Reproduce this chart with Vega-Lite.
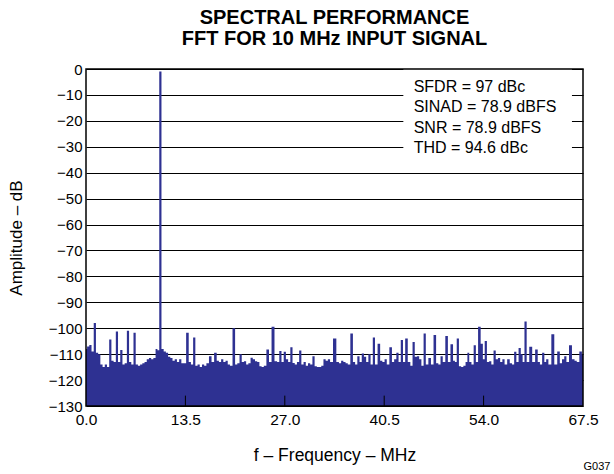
{
  "$schema": "https://vega.github.io/schema/vega-lite/v6.json",
  "width": 497,
  "height": 337,
  "autosize": "none",
  "padding": {"left": 86, "top": 69, "right": 31, "bottom": 68},
  "background": "white",
  "config": {
    "view": {"stroke": null},
    "font": "Liberation Sans",
    "axis": {"labelOverlap": false},
    "axisQuantitative": {"labelOverlap": false}
  },
  "title": {
    "text": ["SPECTRAL PERFORMANCE", "FFT FOR 10 MHz INPUT SIGNAL"],
    "fontSize": 20,
    "fontWeight": "bold",
    "font": "Liberation Sans",
    "color": "black",
    "offset": 13,
    "lineHeight": 21
  },
  "datasets": {
    "fft": [
      {"f": 0.0, "a": -108}, {"f": 0.3, "a": -107}, {"f": 0.6, "a": -106.5}, {"f": 0.9, "a": -109},
      {"f": 1.2, "a": -98}, {"f": 1.5, "a": -109.5}, {"f": 1.8, "a": -110}, {"f": 2.1, "a": -114},
      {"f": 2.4, "a": -115}, {"f": 2.7, "a": -114}, {"f": 3.0, "a": -115}, {"f": 3.3, "a": -104.3},
      {"f": 3.6, "a": -112.5}, {"f": 3.9, "a": -113}, {"f": 4.2, "a": -101.3}, {"f": 4.5, "a": -113},
      {"f": 4.8, "a": -108.4}, {"f": 5.1, "a": -114}, {"f": 5.4, "a": -113.5}, {"f": 5.7, "a": -101},
      {"f": 6.0, "a": -113}, {"f": 6.3, "a": -114}, {"f": 6.6, "a": -101.7}, {"f": 6.9, "a": -114},
      {"f": 7.2, "a": -114.5}, {"f": 7.5, "a": -114}, {"f": 7.8, "a": -113.5}, {"f": 8.1, "a": -113},
      {"f": 8.4, "a": -112}, {"f": 8.7, "a": -111.5}, {"f": 9.0, "a": -112}, {"f": 9.3, "a": -111.5},
      {"f": 9.6, "a": -108}, {"f": 9.8, "a": -108.5}, {"f": 10.1, "a": -1}, {"f": 10.4, "a": -108},
      {"f": 10.7, "a": -109}, {"f": 11.0, "a": -109.5}, {"f": 11.3, "a": -111}, {"f": 11.6, "a": -111.5},
      {"f": 11.9, "a": -112.5}, {"f": 12.2, "a": -112}, {"f": 12.5, "a": -113}, {"f": 12.8, "a": -112},
      {"f": 13.1, "a": -113.5}, {"f": 13.4, "a": -113.5}, {"f": 13.8, "a": -101.7}, {"f": 14.1, "a": -113},
      {"f": 14.4, "a": -114}, {"f": 14.7, "a": -103.6}, {"f": 15.0, "a": -114.5}, {"f": 15.3, "a": -114},
      {"f": 15.6, "a": -115}, {"f": 15.9, "a": -114}, {"f": 16.2, "a": -114.5}, {"f": 16.5, "a": -113.5},
      {"f": 16.9, "a": -110.8}, {"f": 17.2, "a": -113}, {"f": 17.6, "a": -109.5}, {"f": 17.9, "a": -112.5},
      {"f": 18.2, "a": -113}, {"f": 18.5, "a": -112}, {"f": 18.8, "a": -113}, {"f": 19.1, "a": -112.5},
      {"f": 19.4, "a": -114}, {"f": 19.7, "a": -114.5}, {"f": 20.1, "a": -100}, {"f": 20.4, "a": -114},
      {"f": 20.7, "a": -113.5}, {"f": 21.0, "a": -110}, {"f": 21.3, "a": -113}, {"f": 21.6, "a": -112.7},
      {"f": 21.9, "a": -114}, {"f": 22.2, "a": -113.5}, {"f": 22.5, "a": -111.4}, {"f": 22.8, "a": -112},
      {"f": 23.1, "a": -112.7}, {"f": 23.4, "a": -113}, {"f": 23.7, "a": -114.7}, {"f": 24.0, "a": -115},
      {"f": 24.3, "a": -114.5}, {"f": 24.7, "a": -108.2}, {"f": 25.0, "a": -113}, {"f": 25.4, "a": -99.4},
      {"f": 25.8, "a": -112.7}, {"f": 26.1, "a": -113}, {"f": 26.4, "a": -108.8}, {"f": 26.7, "a": -113},
      {"f": 27.0, "a": -109.1}, {"f": 27.3, "a": -112}, {"f": 27.6, "a": -113}, {"f": 27.9, "a": -107.3},
      {"f": 28.2, "a": -113.4}, {"f": 28.5, "a": -114}, {"f": 28.8, "a": -113}, {"f": 29.1, "a": -108.6},
      {"f": 29.4, "a": -114}, {"f": 29.7, "a": -113}, {"f": 30.0, "a": -114.5}, {"f": 30.3, "a": -113.5},
      {"f": 30.6, "a": -114}, {"f": 30.9, "a": -110.8}, {"f": 31.2, "a": -114.7}, {"f": 31.5, "a": -115},
      {"f": 31.8, "a": -115}, {"f": 32.1, "a": -114.5}, {"f": 32.4, "a": -112}, {"f": 32.7, "a": -112.5},
      {"f": 33.0, "a": -112}, {"f": 33.3, "a": -113}, {"f": 33.8, "a": -104}, {"f": 34.2, "a": -113},
      {"f": 34.5, "a": -113.5}, {"f": 34.8, "a": -112.5}, {"f": 35.1, "a": -113}, {"f": 35.4, "a": -113.5},
      {"f": 35.7, "a": -114}, {"f": 36.1, "a": -102}, {"f": 36.4, "a": -113}, {"f": 36.7, "a": -114},
      {"f": 37.0, "a": -110.8}, {"f": 37.3, "a": -113}, {"f": 37.6, "a": -109.7}, {"f": 37.9, "a": -111},
      {"f": 38.2, "a": -113}, {"f": 38.5, "a": -110}, {"f": 38.8, "a": -114}, {"f": 39.1, "a": -103.6},
      {"f": 39.4, "a": -114}, {"f": 39.8, "a": -106}, {"f": 40.1, "a": -112.5}, {"f": 40.4, "a": -113},
      {"f": 40.7, "a": -112}, {"f": 41.0, "a": -114}, {"f": 41.4, "a": -107.3}, {"f": 41.7, "a": -113},
      {"f": 42.0, "a": -112}, {"f": 42.3, "a": -109.5}, {"f": 42.6, "a": -113}, {"f": 42.9, "a": -104.5},
      {"f": 43.2, "a": -113}, {"f": 43.5, "a": -104}, {"f": 43.9, "a": -113}, {"f": 44.2, "a": -114.5},
      {"f": 44.5, "a": -105.3}, {"f": 44.8, "a": -111}, {"f": 45.1, "a": -110.8}, {"f": 45.4, "a": -112},
      {"f": 45.7, "a": -114.5}, {"f": 46.0, "a": -102}, {"f": 46.3, "a": -114}, {"f": 46.7, "a": -111.5},
      {"f": 47.0, "a": -114}, {"f": 47.4, "a": -102.6}, {"f": 47.7, "a": -113.5}, {"f": 48.0, "a": -114},
      {"f": 48.3, "a": -110.8}, {"f": 48.6, "a": -113}, {"f": 49.0, "a": -103}, {"f": 49.3, "a": -113},
      {"f": 49.7, "a": -106.2}, {"f": 50.0, "a": -112.5}, {"f": 50.2, "a": -113}, {"f": 50.5, "a": -104},
      {"f": 50.8, "a": -114.7}, {"f": 51.1, "a": -115}, {"f": 51.4, "a": -114.5}, {"f": 51.7, "a": -113},
      {"f": 51.9, "a": -109.5}, {"f": 52.2, "a": -113}, {"f": 52.5, "a": -114}, {"f": 52.8, "a": -106.6},
      {"f": 53.1, "a": -113}, {"f": 53.4, "a": -99.4}, {"f": 53.8, "a": -106}, {"f": 54.0, "a": -112},
      {"f": 54.3, "a": -104.9}, {"f": 54.6, "a": -113}, {"f": 54.9, "a": -112.7}, {"f": 55.2, "a": -114},
      {"f": 55.5, "a": -108.6}, {"f": 55.8, "a": -112}, {"f": 56.1, "a": -111.5}, {"f": 56.4, "a": -113},
      {"f": 56.7, "a": -112}, {"f": 57.0, "a": -114}, {"f": 57.4, "a": -112}, {"f": 57.7, "a": -113.5},
      {"f": 58.0, "a": -114}, {"f": 58.3, "a": -109.1}, {"f": 58.6, "a": -113}, {"f": 58.9, "a": -107.6},
      {"f": 59.2, "a": -110}, {"f": 59.4, "a": -113}, {"f": 59.7, "a": -97.4}, {"f": 60.0, "a": -113},
      {"f": 60.4, "a": -107.1}, {"f": 60.8, "a": -113}, {"f": 61.2, "a": -108.2}, {"f": 61.5, "a": -113},
      {"f": 61.8, "a": -114}, {"f": 62.1, "a": -109.5}, {"f": 62.4, "a": -113}, {"f": 62.6, "a": -112},
      {"f": 63.0, "a": -114}, {"f": 63.4, "a": -102.3}, {"f": 63.8, "a": -114}, {"f": 64.2, "a": -109},
      {"f": 64.5, "a": -113.5}, {"f": 64.8, "a": -112}, {"f": 65.1, "a": -110.8}, {"f": 65.4, "a": -113},
      {"f": 65.8, "a": -106.6}, {"f": 66.2, "a": -112}, {"f": 66.5, "a": -112.5}, {"f": 66.8, "a": -113},
      {"f": 67.2, "a": -109}, {"f": 67.5, "a": -110}
    ]
  },
  "layer": [
    {
      "data": {"name": "fft"},
      "mark": {"type": "area", "interpolate": "step", "color": "#2e3192"},
      "encoding": {
        "x": {
          "field": "f",
          "type": "quantitative",
          "scale": {"domain": [0, 67.5], "nice": false, "zero": false},
          "axis": {
            "values": [0, 13.5, 27, 40.5, 54, 67.5],
            "format": ".1f",
            "grid": false,
            "ticks": false,
            "domain": false,
            "labelFontSize": 15.5,
            "labelPadding": 6,
            "labelColor": "black",
            "labelFont": "Liberation Sans",
            "labelFlush": false,
            "labelOverlap": false,
            "title": "f – Frequency – MHz",
            "titleFontSize": 17.5,
            "titleFontWeight": "normal",
            "titleFont": "Liberation Sans",
            "titleColor": "black",
            "titlePadding": 18.5
          }
        },
        "y": {
          "field": "a",
          "type": "quantitative",
          "scale": {"domain": [-130, 0], "nice": false, "zero": false},
          "axis": {
            "tickCount": 13,
            "format": "d",
            "grid": true,
            "gridColor": "black",
            "gridWidth": 1,
            "gridOpacity": 1,
            "ticks": false,
            "domain": false,
            "labelFontSize": 15,
            "labelPadding": 4,
            "labelColor": "black",
            "labelFont": "Liberation Sans",
            "labelFlush": false,
            "labelOverlap": false,
            "labelBound": false,
            "title": "Amplitude – dB",
            "titleFontSize": 17,
            "titleFontWeight": "normal",
            "titleFont": "Liberation Sans",
            "titleColor": "black",
            "titlePadding": 23
          }
        },
        "y2": {"datum": -130}
      }
    },
    {
      "data": {"values": [{}]},
      "mark": {"type": "rect", "fill": "white"},
      "encoding": {
        "x": {"datum": 43.1},
        "x2": {"datum": 66},
        "y": {"datum": 0},
        "y2": {"datum": -35}
      }
    },
    {
      "data": {"values": [{}]},
      "mark": {
        "type": "text",
        "text": ["SFDR = 97 dBc", "SINAD = 78.9 dBFS", "SNR = 78.9 dBFS", "THD = 94.6 dBc"],
        "align": "left",
        "baseline": "middle",
        "lineHeight": 20.5,
        "fontSize": 16,
        "font": "Liberation Sans",
        "color": "black"
      },
      "encoding": {"x": {"datum": 44.5}, "y": {"datum": -6.8}}
    },
    {
      "data": {"values": [{"t": 13.5}, {"t": 27}, {"t": 40.5}, {"t": 54}]},
      "mark": {"type": "rule", "color": "black", "strokeWidth": 1},
      "encoding": {
        "x": {"field": "t", "type": "quantitative"},
        "y": {"datum": -130},
        "y2": {"datum": -126}
      }
    },
    {
      "data": {"values": [{}]},
      "mark": {"type": "rect", "fill": null, "stroke": "black", "strokeWidth": 1.5},
      "encoding": {
        "x": {"datum": 0},
        "x2": {"datum": 67.5},
        "y": {"datum": -130},
        "y2": {"datum": 0}
      }
    },
    {
      "data": {"values": [{}]},
      "mark": {"type": "text", "text": "G037", "fontSize": 11, "font": "Liberation Sans", "color": "black", "align": "center", "baseline": "middle", "clip": false},
      "encoding": {"x": {"datum": 69.4}, "y": {"datum": -153.5}}
    }
  ]
}
